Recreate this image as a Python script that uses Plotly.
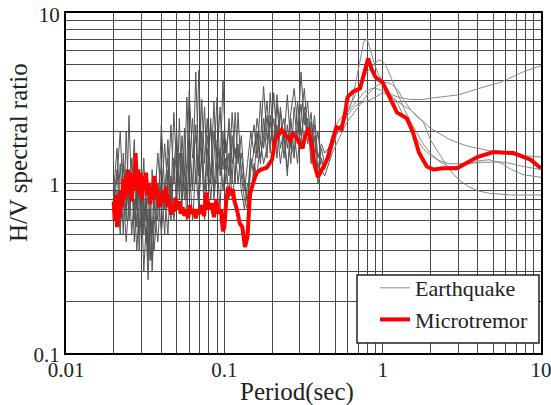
import plotly.graph_objects as go

# ---------------- data ----------------
EQ_PERIOD = [
    0.020, 0.021, 0.022, 0.023, 0.024, 0.025, 0.026, 0.027, 0.028, 0.029,
    0.030, 0.031, 0.032, 0.033, 0.034, 0.035, 0.036, 0.038, 0.040, 0.042,
    0.044, 0.046, 0.048, 0.050, 0.052, 0.054, 0.056, 0.058, 0.060, 0.063,
    0.066, 0.069, 0.072, 0.075, 0.078, 0.082, 0.086, 0.090, 0.094, 0.098,
    0.102, 0.107, 0.112, 0.117, 0.122, 0.128, 0.134, 0.140, 0.147, 0.154,
    0.161, 0.169, 0.177, 0.186, 0.195, 0.205, 0.215, 0.226, 0.238, 0.250,
    0.263, 0.276, 0.290, 0.305, 0.320, 0.336, 0.353, 0.371, 0.390, 0.410,
    0.430, 0.455, 0.48, 0.51, 0.54, 0.57, 0.60, 0.64, 0.68, 0.72,
    0.76, 0.80, 0.85, 0.90, 0.95, 1.00, 1.07, 1.15, 1.25, 1.35,
    1.5, 1.65, 1.8, 2.0, 2.3, 2.6, 3.0, 3.5, 4.0, 4.7,
    5.5, 6.5, 7.7, 10.0,
]

EQ1 = [
    0.9, 1.6, 0.7, 1.3, 0.6, 2.5, 0.8, 1.1, 0.55, 1.0,
    0.7, 1.4, 0.6, 0.9, 0.5, 1.2, 0.7, 1.5, 0.8, 1.7,
    0.9, 2.2, 1.0, 1.6, 0.8, 1.9, 1.1, 3.2, 1.2, 2.4,
    1.0, 4.6, 1.3, 2.8, 1.1, 2.2, 0.9, 1.8, 1.2, 4.0,
    1.5, 2.1, 1.0, 2.6, 1.3, 1.9, 1.0, 0.8, 1.6, 2.2,
    1.4, 3.0, 1.6, 2.5, 1.5, 3.4, 1.8, 2.6, 1.4, 2.2,
    1.3, 2.8, 1.7, 4.5, 2.2, 3.0, 1.6, 2.2, 1.2, 1.6,
    1.3, 1.6, 1.9, 2.2, 2.4, 2.5, 2.6, 3.0, 4.0, 5.3,
    6.8, 7.0, 5.8, 4.8, 4.3, 4.0, 3.5, 3.2, 3.0, 2.85,
    2.7, 2.5, 2.3, 1.8, 1.45, 1.22, 1.05, 0.95, 0.9, 0.87,
    0.86, 0.85, 0.85, 0.85,
]

EQ2 = [
    0.7, 1.1, 2.0, 0.8, 1.2, 0.6, 1.0, 1.8, 0.7, 1.2,
    0.5, 0.8, 0.45, 0.7, 0.35, 0.6, 0.4, 0.8, 1.3, 0.7,
    1.8, 0.8, 2.6, 1.2, 1.0, 1.5, 0.9, 1.3, 3.5, 1.4,
    1.9, 1.1, 3.1, 1.3, 2.4, 1.0, 2.0, 1.4, 2.8, 1.2,
    1.8, 1.1, 2.6, 1.4, 1.7, 1.2, 0.9, 1.3, 2.0, 1.5,
    2.4, 1.7, 3.7, 1.8, 2.3, 1.5, 2.9, 1.6, 2.0, 1.2,
    1.8, 1.4, 3.0, 1.9, 2.6, 1.7, 2.3, 1.3, 1.1, 1.4,
    1.2, 1.4, 1.6, 1.9, 2.1, 2.4, 2.7, 3.0, 3.4, 3.8,
    4.2, 4.5, 4.8, 5.1, 5.3, 5.2, 4.7, 4.0, 3.3, 2.8,
    2.3, 1.95, 1.7, 1.5, 1.33, 1.25, 1.25, 1.3, 1.35, 1.37,
    1.32, 1.2, 1.12, 1.08,
]

EQ3 = [
    1.0, 0.6, 1.3, 0.5, 2.0, 0.7, 1.1, 0.45, 0.9, 0.4,
    0.8, 0.3, 0.55, 0.27, 0.6, 0.35, 0.75, 0.45, 1.0, 0.5,
    1.2, 0.6, 1.4, 0.7, 2.4, 0.8, 1.2, 0.6, 1.6, 0.9,
    2.2, 0.8, 1.5, 0.7, 1.9, 1.1, 3.0, 1.0, 1.6, 0.9,
    1.4, 0.8, 1.9, 1.0, 2.6, 1.1, 0.8, 0.7, 1.4, 1.1,
    1.9, 1.3, 2.4, 1.4, 3.4, 1.6, 2.2, 1.3, 1.9, 1.1,
    2.4, 1.5, 2.0, 2.9, 1.6, 2.4, 1.3, 1.9, 1.0, 1.2,
    1.1, 1.3, 1.5, 1.7, 1.9, 2.1, 2.3, 2.5, 2.7, 2.9,
    3.1, 3.3, 3.5, 3.7, 3.8, 3.9, 3.9, 3.8, 3.5, 3.1,
    2.7, 2.45, 2.3, 2.1, 1.95, 1.82, 1.72, 1.64, 1.6, 1.55,
    1.5, 1.47, 1.45, 1.42,
]

EQ4 = [
    0.8, 1.2, 0.55, 0.9, 0.45, 0.8, 1.4, 0.6, 1.0, 0.5,
    1.1, 0.6, 0.9, 0.4, 0.8, 0.5, 1.0, 0.6, 2.2, 0.9,
    1.4, 0.7, 1.2, 2.0, 0.9, 1.3, 0.8, 1.1, 2.0, 0.9,
    4.5, 1.2, 2.0, 0.9, 1.6, 0.8, 1.4, 3.2, 1.1, 1.6,
    1.2, 2.4, 1.3, 1.6, 1.0, 1.5, 1.0, 0.75, 1.2, 1.6,
    2.0, 1.4, 1.9, 3.0, 1.7, 2.4, 1.4, 2.8, 1.8, 3.3,
    1.6, 2.0, 1.3, 2.4, 3.6, 1.9, 2.6, 1.5, 2.0, 1.3,
    1.25, 1.5, 1.8, 2.0, 2.2, 2.4, 2.6, 2.8, 3.0, 3.2,
    3.4, 3.5, 3.6, 3.6, 3.55, 3.5, 3.4, 3.3, 3.2, 3.15,
    3.1, 3.1, 3.1, 3.15, 3.2, 3.25, 3.3, 3.45, 3.6, 3.75,
    3.9, 4.2, 4.5, 4.9,
]

EQ5 = [
    0.6, 0.9, 0.5, 1.5, 0.7, 1.1, 0.5, 0.8, 0.4, 0.7,
    1.3, 0.5, 0.8, 0.35, 0.7, 0.3, 0.55, 1.0, 0.5, 0.9,
    0.5, 1.1, 0.6, 0.9, 1.5, 0.7, 2.1, 0.8, 1.3, 0.6,
    1.2, 0.7, 1.6, 0.6, 1.2, 2.4, 0.8, 1.3, 0.7, 2.0,
    1.0, 1.5, 0.8, 1.2, 1.6, 0.9, 0.7, 1.0, 0.8, 1.3,
    1.1, 1.8, 1.3, 1.6, 2.5, 1.7, 3.3, 1.9, 2.4, 1.6,
    2.6, 3.6, 2.2, 1.7, 2.8, 2.0, 1.6, 2.5, 1.4, 1.7,
    1.5, 1.6, 1.8, 1.95, 2.1, 2.3, 2.5, 2.7, 2.85, 2.95,
    3.0, 3.05, 3.1, 3.2, 3.3, 3.4, 3.35, 3.2, 2.9, 2.5,
    2.1, 1.8, 1.6, 1.45, 1.35, 1.3, 1.3, 1.3, 1.32, 1.33,
    1.33, 1.3, 1.25, 1.2,
]

EARTHQUAKES = [EQ1, EQ2, EQ3, EQ4, EQ5]
NOISY_END = 72  # index in EQ_PERIOD where records become smooth (0.48 s)

RED_PERIOD = [
    0.0200, 0.0203, 0.0207, 0.0210, 0.0214, 0.0218, 0.0222, 0.0226, 0.0230, 0.0234,
    0.0238, 0.0242, 0.0246, 0.0250, 0.0255, 0.0260, 0.0265, 0.0270, 0.0275, 0.0280,
    0.0285, 0.0290, 0.0296, 0.0302, 0.0308, 0.0314, 0.0320, 0.0327, 0.0334, 0.0341,
    0.0348, 0.0355, 0.0362, 0.0370, 0.0378, 0.0386, 0.0394, 0.0402, 0.0410, 0.0420,
    0.0430, 0.0440, 0.0450, 0.0460, 0.0470, 0.0480, 0.0492, 0.0505, 0.0518, 0.0530,
    0.0545, 0.0560, 0.0575, 0.0590, 0.0605, 0.0620, 0.0640, 0.0660, 0.0680, 0.0700,
    0.0720, 0.0745, 0.0770, 0.0800, 0.0830, 0.0860, 0.0890, 0.0920, 0.0950, 0.0980,
    0.1000, 0.1030, 0.1060, 0.1090, 0.1130, 0.1160, 0.1200, 0.1250, 0.1300, 0.1350,
    0.1400, 0.1450, 0.1520, 0.1600, 0.1700, 0.1850, 0.2000, 0.2100, 0.2200, 0.2300,
    0.2450, 0.2600, 0.2700, 0.2850, 0.3000, 0.3100, 0.3250, 0.3400, 0.3550, 0.3700,
    0.3900, 0.4100, 0.4300, 0.4500, 0.4800, 0.5100, 0.5500, 0.5800, 0.6000, 0.6500,
    0.7200, 0.7700, 0.8100, 0.8500, 0.9000, 1.0000, 1.1000, 1.2300, 1.4200, 1.5500,
    1.7000, 1.9000, 2.1000, 2.4000, 2.9500, 3.4000, 3.9600, 5.0000, 6.0000, 6.7000,
    8.6000, 10.000,
]

RED_HV = [
    0.78, 0.60, 0.85, 0.55, 0.70, 0.62, 0.90, 0.72, 1.05, 0.80,
    1.10, 0.85, 1.20, 0.95, 1.15, 0.78, 1.05, 0.90, 1.50, 1.00,
    1.20, 0.85, 1.15, 0.80, 1.10, 0.90, 1.15, 0.85, 1.00, 0.75,
    0.95, 0.80, 1.10, 0.85, 0.95, 0.72, 0.85, 0.75, 0.90, 0.78,
    0.95, 0.72, 0.80, 0.65, 0.75, 0.68, 0.82, 0.70, 0.78, 0.66,
    0.72, 0.64, 0.70, 0.62, 0.74, 0.66, 0.70, 0.62, 0.70, 0.66,
    0.74, 0.64, 0.88, 0.70, 0.76, 0.63, 0.80, 0.66, 0.70, 0.52,
    0.55, 0.80, 0.95, 0.85, 0.92, 0.78, 0.70, 0.58, 0.55, 0.42,
    0.48, 0.85, 1.00, 1.15, 1.20, 1.23, 1.37, 1.80, 1.95, 2.05,
    1.90, 1.78, 1.95, 1.86, 1.70, 1.60, 1.90, 2.10, 1.70, 1.30,
    1.08, 1.18, 1.30, 1.40, 1.75, 2.13, 2.08, 2.60, 3.20, 3.45,
    3.60, 4.50, 5.40, 4.70, 4.20, 3.90, 3.20, 2.60, 2.40, 2.00,
    1.50, 1.25, 1.20, 1.22, 1.22, 1.32, 1.42, 1.52, 1.52, 1.50,
    1.37, 1.22,
]

X_TICKS = [0.01, 0.1, 1, 10]
X_TICKTEXT = ["0.01", "0.1", "1", "10"]
Y_TICKS = [0.1, 1, 10]
Y_TICKTEXT = ["0.1", "1", "10"]
X_MINOR = [0.02, 0.03, 0.04, 0.05, 0.06, 0.07, 0.08, 0.09,
           0.2, 0.3, 0.4, 0.5, 0.6, 0.7, 0.8, 0.9,
           2, 3, 4, 5, 6, 7, 8, 9]
Y_MINOR = [0.2, 0.3, 0.4, 0.5, 0.6, 0.7, 0.8, 0.9,
           2, 3, 4, 5, 6, 7, 8, 9]

# ---------------- figure ----------------
FONT = "Liberation Serif"
TXT = "#222222"
GRID = "#474747"
EQ_DARK = "#555555"
EQ_LIGHT = "#8a8a8a"

fig = go.Figure()
for i, eq in enumerate(EARTHQUAKES):
    # noisy short-period part (darker, dense)
    fig.add_trace(go.Scatter(
        x=EQ_PERIOD[:NOISY_END + 1], y=eq[:NOISY_END + 1], mode="lines",
        line=dict(color=EQ_DARK, width=1),
        name="Earthquake", legendgroup="eq", showlegend=False,
    ))
    # smooth long-period part
    fig.add_trace(go.Scatter(
        x=EQ_PERIOD[NOISY_END:], y=eq[NOISY_END:], mode="lines",
        line=dict(color=EQ_LIGHT, width=1),
        name="Earthquake", legendgroup="eq", showlegend=(i == 0),
    ))

fig.add_trace(go.Scatter(
    x=RED_PERIOD, y=RED_HV, mode="lines",
    line=dict(color="#ff0000", width=4),
    name="Microtremor",
))

axis_common = dict(
    type="log", automargin=False,
    showline=True, mirror=True, linecolor="black", linewidth=2,
    showgrid=True, gridcolor=GRID, gridwidth=1,
    ticks="", zeroline=False,
    ticklabeloverflow="allow",
    tickfont=dict(family=FONT, size=21, color=TXT),
)

fig.update_xaxes(
    range=[-2, 1], tickvals=X_TICKS, ticktext=X_TICKTEXT,
    ticklabelstandoff=-3,
    minor=dict(tickvals=X_MINOR, showgrid=True, gridcolor=GRID, gridwidth=1, ticks=""),
    **axis_common,
)
fig.update_yaxes(
    range=[-1, 1], tickvals=Y_TICKS, ticktext=Y_TICKTEXT,
    ticklabelshift=2,
    minor=dict(tickvals=Y_MINOR, showgrid=True, gridcolor=GRID, gridwidth=1, ticks=""),
    **axis_common,
)

L, R, T, B = 66, 10, 13, 52
W, H = 551, 405
pw, ph = W - L - R, H - T - B


def px_x(px):
    return (px - L) / pw


def px_y(py):
    return (H - B - py) / ph


fig.update_layout(
    width=W, height=H,
    margin=dict(l=L, r=R, t=T, b=B, autoexpand=False),
    paper_bgcolor="white", plot_bgcolor="white",
    font=dict(family=FONT, color=TXT),
    legend=dict(
        x=px_x(375), y=px_y(267), xanchor="left", yanchor="top",
        bgcolor="rgba(0,0,0,0)", borderwidth=0,
        font=dict(family=FONT, size=22, color=TXT),
        tracegroupgap=0,
    ),
    shapes=[
        dict(type="rect", xref="paper", yref="paper", layer="above",
             x0=px_x(357), x1=px_x(539), y0=px_y(343), y1=px_y(275),
             fillcolor="white", line=dict(color="#222222", width=1.5)),
    ],
    annotations=[
        dict(text="H/V spectral ratio", textangle=-90,
             x=px_x(18), y=px_y(153), xref="paper", yref="paper",
             xanchor="center", yanchor="middle", showarrow=False,
             font=dict(family=FONT, size=25, color=TXT)),
        dict(text="Period(sec)",
             x=px_x(297), y=px_y(392), xref="paper", yref="paper",
             xanchor="center", yanchor="middle", showarrow=False,
             font=dict(family=FONT, size=25, color=TXT)),
    ],
)

fig.write_html("out.html")
